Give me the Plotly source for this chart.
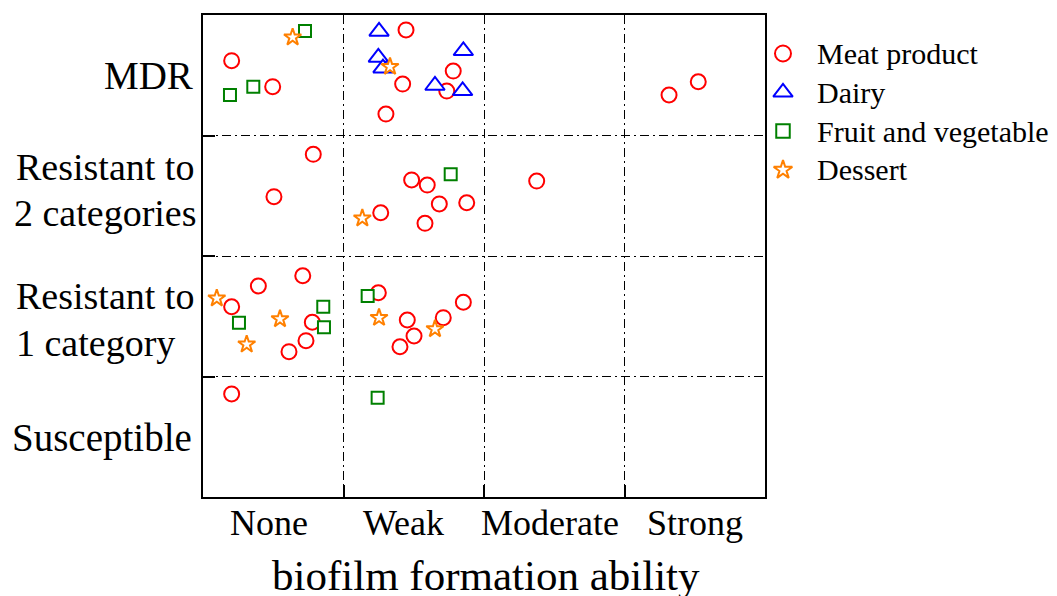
import plotly.graph_objects as go

# ---------------- data ----------------
x_categories = ["None", "Weak", "Moderate", "Strong"]
y_categories = ["Susceptible", "Resistant to 1 category", "Resistant to 2 categories", "MDR"]
series_names = ["Meat product", "Dairy", "Fruit and vegetable", "Dessert"]

# x: biofilm ability scale (0-4, one unit per category), y: resistance scale (0-4)
meat_x = [0.204, 0.496, 1.445, 1.781, 1.421, 1.735, 1.302, 3.317, 3.525,
          0.785, 0.505, 1.265, 1.485, 1.596, 1.682, 1.877, 1.580, 2.375,
          0.204, 0.394, 0.710, 0.778, 0.733, 0.612, 1.248, 1.454, 1.502, 1.402, 1.710, 1.853,
          0.204]
meat_y = [3.621, 3.405, 3.876, 3.535, 3.427, 3.369, 3.178, 3.336, 3.446,
          2.844, 2.492, 2.359, 2.631, 2.589, 2.432, 2.442, 2.271, 2.622,
          1.579, 1.751, 1.836, 1.450, 1.297, 1.206, 1.695, 1.469, 1.336, 1.247, 1.488, 1.616,
          0.855]

dairy_x = [1.253, 1.853, 1.248, 1.281, 1.651, 1.848]
dairy_y = [3.864, 3.703, 3.648, 3.559, 3.415, 3.371]

fruit_x = [0.726, 0.358, 0.192, 1.763, 0.256, 0.856, 0.861, 1.172, 1.243]
fruit_y = [3.867, 3.405, 3.336, 2.678, 1.446, 1.579, 1.408, 1.668, 0.824]

dessert_x = [0.638, 1.331, 1.134, 0.098, 0.548, 0.311, 1.253, 1.651]
dessert_y = [3.815, 3.571, 2.313, 1.649, 1.477, 1.267, 1.488, 1.394]

# ---------------- styling ----------------
FONT = "Liberation Serif, Times New Roman, serif"
styles = [
    dict(symbol="circle", color="#FF0000", size=15, lsize=16),
    dict(symbol="triangle-up", color="#0000FF", size=17, lsize=17),
    dict(symbol="square", color="#008000", size=12, lsize=13.5),
    dict(symbol="star", color="#FF8000", size=13, lsize=14),
]
xs_all = [meat_x, dairy_x, fruit_x, dessert_x]
ys_all = [meat_y, dairy_y, fruit_y, dessert_y]

# page geometry (the written page has an 8px body margin)
OFF = 8
FIG_W, FIG_H = 1057 - OFF, 596 - OFF
PLOT_LEFT, PLOT_RIGHT, PLOT_TOP, PLOT_BOTTOM = 203, 765, 15, 497   # page pixels
L = PLOT_LEFT - OFF
T = PLOT_TOP - OFF
B = FIG_H - (PLOT_BOTTOM - OFF)
R = 0
PLOT_W = FIG_W - L - R
PLOT_H = FIG_H - T - B
DOM_END = (PLOT_RIGHT - PLOT_LEFT) / PLOT_W
LEG_DOM0 = DOM_END + 0.002
x2_start = PLOT_LEFT + LEG_DOM0 * PLOT_W
x2_end = PLOT_LEFT + PLOT_W


def pxx(x):  # page x -> paper x
    return (x - PLOT_LEFT) / PLOT_W


def pyy(y):  # page y -> paper y
    return (PLOT_BOTTOM - y) / PLOT_H


fig = go.Figure()
for name, xs, ys, st in zip(series_names, xs_all, ys_all, styles):
    fig.add_trace(go.Scatter(
        x=xs, y=ys, mode="markers", name=name, showlegend=False,
        marker=dict(symbol=st["symbol"], size=st["size"], color="white",
                    line=dict(color=st["color"], width=2)),
    ))

# legend drawn on a helper axis in page-pixel units
leg_x, leg_y0, leg_dy = 783, 53.5, 38.8
for i, (name, st) in enumerate(zip(series_names, styles)):
    fig.add_trace(go.Scatter(
        x=[leg_x], y=[leg_y0 + i * leg_dy], xaxis="x2", yaxis="y2", mode="markers",
        showlegend=False, hoverinfo="skip",
        marker=dict(symbol=st["symbol"], size=st["lsize"], color="white",
                    line=dict(color=st["color"], width=2)),
    ))

annotations = []
for i, name in enumerate(series_names):
    annotations.append(dict(x=pxx(815), y=pyy(leg_y0 + i * leg_dy), xref="paper", yref="paper",
                            text=name, showarrow=False, xanchor="left", yanchor="middle",
                            font=dict(family=FONT, size=30, color="black")))

# x category labels (page-pixel centres)
x_lab_px = [268.5, 403, 550, 695]
for lab, px in zip(x_categories, x_lab_px):
    annotations.append(dict(x=pxx(px), y=pyy(523), xref="paper", yref="paper", text=lab,
                            showarrow=False, xanchor="center", yanchor="middle",
                            font=dict(family=FONT, size=36, color="black")))

# y category labels, split in lines
y_lines = [
    ("Susceptible", 101.5, 437.5, 39),
    ("1 category", 95, 343, 38),
    ("Resistant to", 105, 296, 38),
    ("2 categories", 105.5, 212.5, 38),
    ("Resistant to", 105, 167, 38),
    ("MDR", 148.5, 75, 39),
]
for txt, px, py, fs in y_lines:
    annotations.append(dict(x=pxx(px), y=pyy(py), xref="paper", yref="paper", text=txt,
                            showarrow=False, xanchor="center", yanchor="middle",
                            font=dict(family=FONT, size=fs, color="black")))

annotations.append(dict(x=pxx(485.5), y=pyy(575), xref="paper", yref="paper",
                        text="biofilm formation ability", showarrow=False,
                        xanchor="center", yanchor="middle",
                        font=dict(family=FONT, size=43, color="black")))

axis_common = dict(range=[0, 4], tickvals=[1, 2, 3], showticklabels=False,
                   showgrid=True, gridcolor="black", gridwidth=1,
                   griddash="9px,4px,2px,4px",
                   zeroline=False, showline=True, linecolor="black", linewidth=2,
                   mirror=True, ticks="inside", ticklen=12, tickcolor="black", tickwidth=1.5)

fig.update_layout(
    width=FIG_W, height=FIG_H,
    margin=dict(l=L, r=R, t=T, b=B, autoexpand=False),
    paper_bgcolor="white", plot_bgcolor="white",
    xaxis=dict(axis_common, domain=[0, DOM_END]),
    yaxis=dict(axis_common, domain=[0, 1]),
    xaxis2=dict(domain=[LEG_DOM0, 1], range=[x2_start, x2_end], anchor="y2",
                visible=False, showgrid=False, zeroline=False),
    yaxis2=dict(domain=[0, 1], range=[PLOT_BOTTOM, PLOT_TOP], anchor="x2",
                visible=False, showgrid=False, zeroline=False),
    annotations=annotations,
    showlegend=False,
    font=dict(family=FONT, color="black"),
)

fig.write_html("out.html")
